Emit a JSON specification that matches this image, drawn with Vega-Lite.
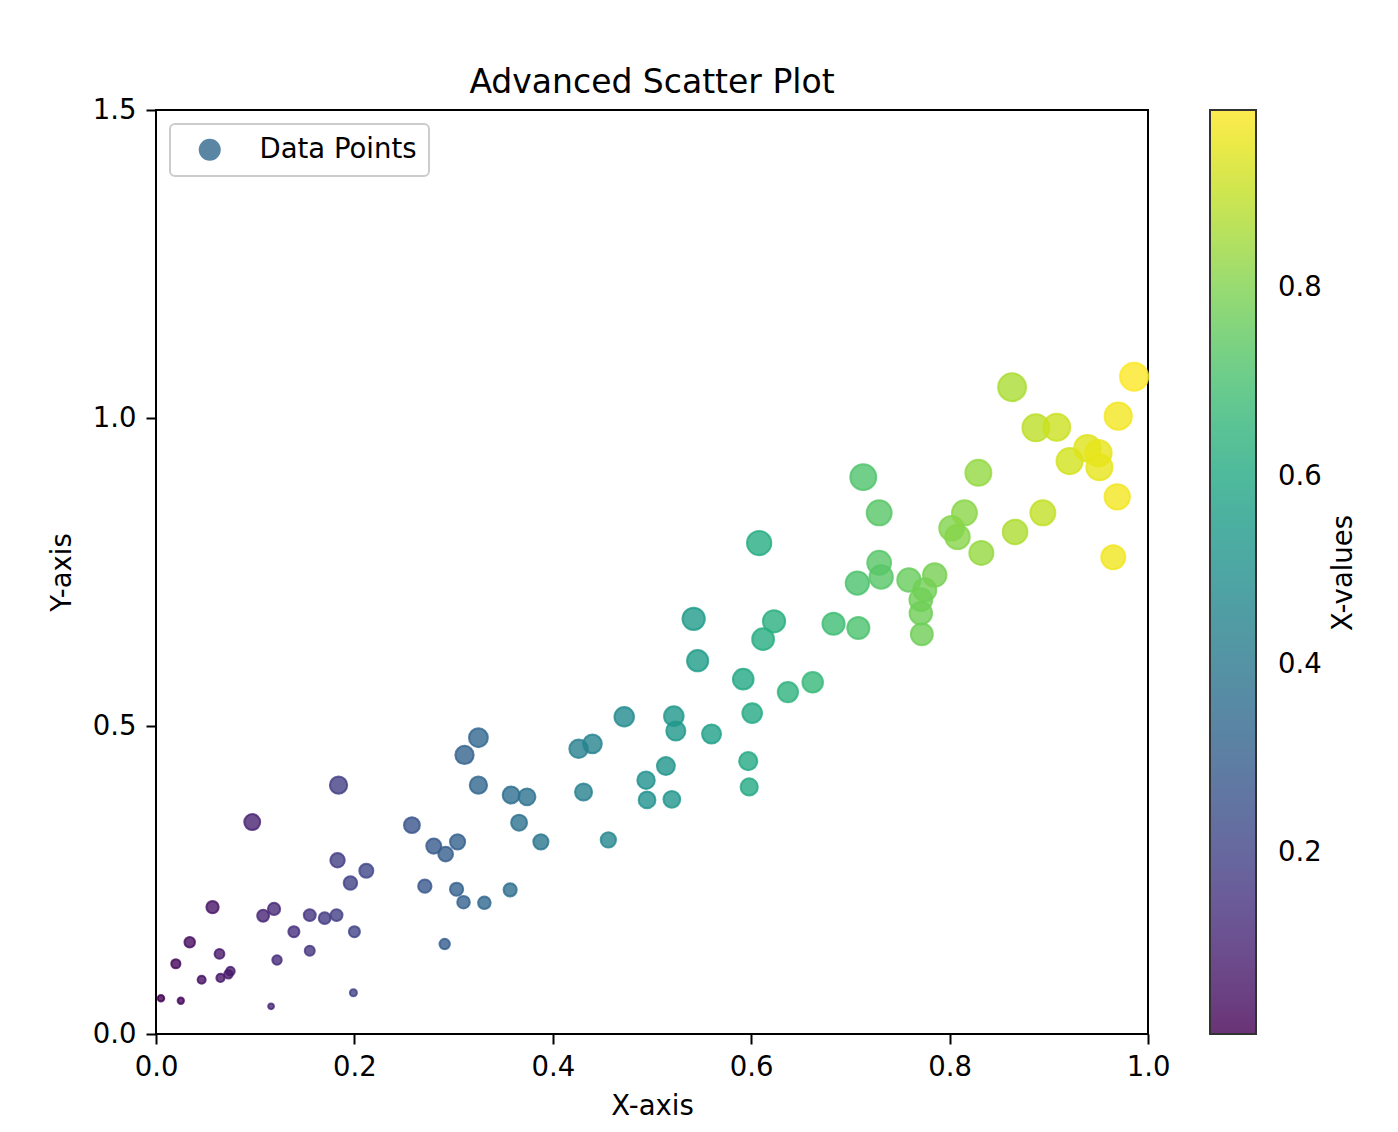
{
  "$schema": "https://vega.github.io/schema/vega-lite/v6.json",
  "width": 992,
  "height": 924,
  "autosize": {"type": "none"},
  "padding": {"left": 156, "top": 110, "right": 250, "bottom": 98},
  "background": "white",
  "config": {
    "font": "DejaVu Sans",
    "view": {"stroke": "black", "strokeWidth": 2},
    "axis": {"grid": false, "domain": false, "tickColor": "black", "tickWidth": 2, "tickSize": 10, "labelColor": "black", "titleColor": "black", "labelFontSize": 27.5, "titleFontSize": 27.5, "titleFontWeight": "normal", "labelFlush": false}
  },
  "title": {"text": "Advanced Scatter Plot", "fontSize": 33, "fontWeight": "normal", "color": "black", "anchor": "middle", "frame": "group", "baseline": "alphabetic", "offset": 16, "dy": 46},
  "data": {"values": [
    {"x": 0.005, "y": 0.058}, {"x": 0.025, "y": 0.054}, {"x": 0.020, "y": 0.114}, {"x": 0.034, "y": 0.149},
    {"x": 0.046, "y": 0.088}, {"x": 0.057, "y": 0.206}, {"x": 0.064, "y": 0.130}, {"x": 0.065, "y": 0.091},
    {"x": 0.073, "y": 0.097}, {"x": 0.075, "y": 0.102}, {"x": 0.097, "y": 0.344}, {"x": 0.108, "y": 0.192},
    {"x": 0.119, "y": 0.203}, {"x": 0.122, "y": 0.120}, {"x": 0.116, "y": 0.045}, {"x": 0.139, "y": 0.166},
    {"x": 0.155, "y": 0.193}, {"x": 0.155, "y": 0.135}, {"x": 0.170, "y": 0.188}, {"x": 0.182, "y": 0.193},
    {"x": 0.183, "y": 0.282}, {"x": 0.184, "y": 0.404}, {"x": 0.196, "y": 0.245}, {"x": 0.199, "y": 0.067},
    {"x": 0.200, "y": 0.166}, {"x": 0.212, "y": 0.265}, {"x": 0.258, "y": 0.339}, {"x": 0.271, "y": 0.240},
    {"x": 0.280, "y": 0.305}, {"x": 0.292, "y": 0.292}, {"x": 0.304, "y": 0.312}, {"x": 0.303, "y": 0.235},
    {"x": 0.310, "y": 0.214}, {"x": 0.311, "y": 0.453}, {"x": 0.325, "y": 0.481}, {"x": 0.325, "y": 0.404},
    {"x": 0.331, "y": 0.213}, {"x": 0.357, "y": 0.234}, {"x": 0.358, "y": 0.388}, {"x": 0.366, "y": 0.343},
    {"x": 0.374, "y": 0.385}, {"x": 0.388, "y": 0.312}, {"x": 0.291, "y": 0.146}, {"x": 0.426, "y": 0.463},
    {"x": 0.431, "y": 0.393}, {"x": 0.440, "y": 0.471}, {"x": 0.456, "y": 0.315}, {"x": 0.472, "y": 0.515},
    {"x": 0.494, "y": 0.412}, {"x": 0.495, "y": 0.380}, {"x": 0.514, "y": 0.435}, {"x": 0.520, "y": 0.381},
    {"x": 0.522, "y": 0.516}, {"x": 0.524, "y": 0.492}, {"x": 0.560, "y": 0.487}, {"x": 0.542, "y": 0.674},
    {"x": 0.546, "y": 0.606}, {"x": 0.592, "y": 0.576}, {"x": 0.597, "y": 0.443}, {"x": 0.598, "y": 0.401},
    {"x": 0.601, "y": 0.521}, {"x": 0.608, "y": 0.797}, {"x": 0.612, "y": 0.641}, {"x": 0.623, "y": 0.670},
    {"x": 0.637, "y": 0.555}, {"x": 0.662, "y": 0.571}, {"x": 0.683, "y": 0.666}, {"x": 0.707, "y": 0.732},
    {"x": 0.708, "y": 0.659}, {"x": 0.713, "y": 0.904}, {"x": 0.729, "y": 0.846}, {"x": 0.729, "y": 0.765},
    {"x": 0.731, "y": 0.742}, {"x": 0.759, "y": 0.737}, {"x": 0.771, "y": 0.705}, {"x": 0.771, "y": 0.683},
    {"x": 0.772, "y": 0.649}, {"x": 0.775, "y": 0.721}, {"x": 0.785, "y": 0.745}, {"x": 0.802, "y": 0.821},
    {"x": 0.808, "y": 0.807}, {"x": 0.815, "y": 0.846}, {"x": 0.829, "y": 0.911}, {"x": 0.832, "y": 0.781},
    {"x": 0.863, "y": 1.050}, {"x": 0.866, "y": 0.815}, {"x": 0.887, "y": 0.984}, {"x": 0.894, "y": 0.846},
    {"x": 0.908, "y": 0.985}, {"x": 0.921, "y": 0.930}, {"x": 0.939, "y": 0.951}, {"x": 0.950, "y": 0.943},
    {"x": 0.951, "y": 0.920}, {"x": 0.965, "y": 0.774}, {"x": 0.969, "y": 0.872}, {"x": 0.970, "y": 1.003},
    {"x": 0.986, "y": 1.067}
  ]},
  "mark": {"type": "point", "filled": true, "fillOpacity": 0.8, "strokeOpacity": 0.8, "strokeWidth": 2, "stroke": {"expr": "scale('color', datum.x)"}},
  "encoding": {
    "x": {"field": "x", "type": "quantitative", "scale": {"domain": [0, 1], "nice": false}, "axis": {"title": "X-axis", "values": [0, 0.2, 0.4, 0.6, 0.8, 1.0], "format": ".1f", "labelPadding": 9, "titlePadding": 12}},
    "y": {"field": "y", "type": "quantitative", "scale": {"domain": [0, 1.5], "nice": false}, "axis": {"title": "Y-axis", "values": [0, 0.5, 1.0, 1.5], "format": ".1f", "labelPadding": 10, "titlePadding": 16}},
    "color": {"field": "x", "type": "quantitative", "scale": {"scheme": "viridis"}, "legend": {
      "type": "gradient", "title": "X-values", "orient": "right", "offset": 62, "direction": "vertical", "padding": 0,
      "gradientLength": 924, "gradientThickness": 46, "gradientStrokeColor": "black", "gradientStrokeWidth": 2,
      "values": [0.2, 0.4, 0.6, 0.8], "format": ".1f", "labelOffset": 22, "labelFontSize": 27.5, "labelColor": "black",
      "titleOrient": "right", "titleAnchor": "middle", "titleFontSize": 27.5, "titleFontWeight": "normal", "titleColor": "black", "titlePadding": 8,
      "encoding": {"gradient": {"opacity": {"value": 0.8}}, "labels": {"dy": {"value": 3}}, "title": {"angle": {"value": -90}, "baseline": {"value": "top"}}}
    }},
    "size": {"field": "y", "type": "quantitative", "scale": {"domain": [0, 1], "range": [0, 740]}, "legend": null},
    "shape": {"datum": "Data Points", "type": "nominal", "scale": {"range": ["circle"]}, "legend": {
      "title": null, "orient": "top-left", "offset": 14, "padding": 12, "strokeColor": "#cccccc", "cornerRadius": 5, "fillColor": "white",
      "symbolFillColor": "#31688e", "symbolStrokeColor": "#31688e", "symbolOpacity": 0.8, "symbolSize": 400, "symbolStrokeWidth": 2, "symbolOffset": 14,
      "labelOffset": 36, "labelFontSize": 27.5, "labelColor": "black",
      "encoding": {"legend": {"strokeWidth": {"value": 2}}}
    }}
  }
}
